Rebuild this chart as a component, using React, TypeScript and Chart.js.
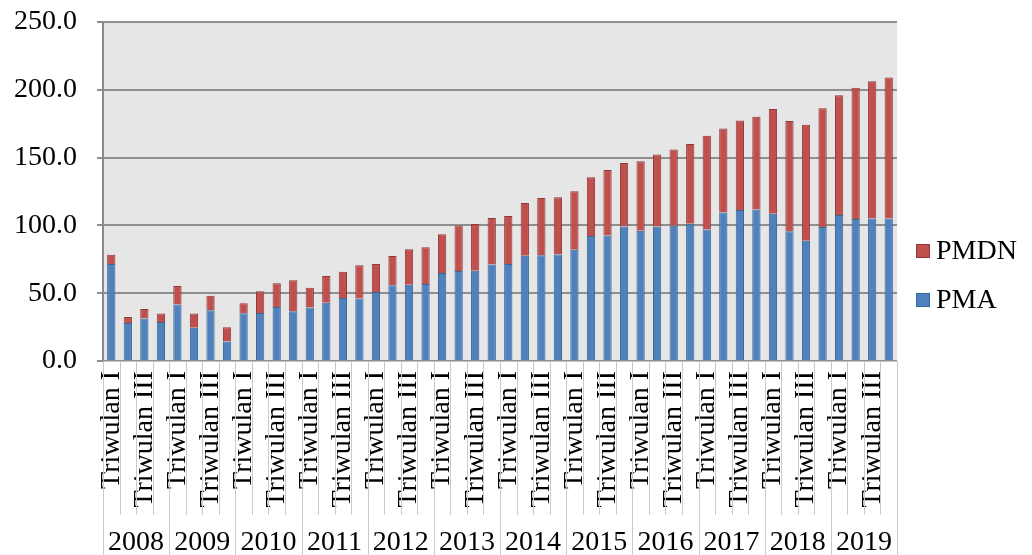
import React, { useEffect, useRef } from "react";
import { Chart, registerables } from "chart.js";

Chart.register(...registerables);

// Quarterly investment realisation, 2008–2019
const years = ["2008", "2009", "2010", "2011", "2012", "2013", "2014", "2015", "2016", "2017", "2018", "2019"];
const quarters = ["Triwulan I", "Triwulan II", "Triwulan III", "Triwulan IV"];

const pmaValues = [
  71.5, 28.0, 31.3, 28.8,
  41.6, 24.6, 37.4, 14.3,
  35.2, 35.4, 39.8, 36.7,
  39.4, 43.0, 46.5, 46.0,
  50.9, 55.8, 56.3, 56.8,
  64.9, 66.4, 66.6, 71.1,
  71.6, 77.7, 78.0, 78.5,
  82.1, 92.2, 92.5, 99.2,
  96.0, 99.2, 99.7, 101.2,
  97.0, 109.6, 111.3, 111.8,
  108.6, 95.6, 88.7, 98.8,
  107.6, 104.7, 105.0, 105.0,
];

const pmdnValues = [
  6.8, 4.4, 7.0, 6.2,
  13.7, 10.4, 10.8, 10.6,
  7.4, 16.0, 17.5, 22.8,
  14.7, 19.7, 19.4, 24.6,
  20.7, 21.7, 26.1, 27.1,
  28.5, 33.6, 34.4, 34.4,
  35.4, 38.8, 42.2, 42.2,
  43.1, 43.3, 48.4, 46.9,
  51.3, 53.0, 56.2, 58.8,
  69.2, 61.8, 66.0, 68.4,
  77.3, 81.4, 85.6, 87.6,
  88.4, 96.9, 101.3, 104.0,
];

const yTicks = [0, 50, 100, 150, 200, 250];

const FONT = "'Liberation Serif', 'Times New Roman', serif";
const BLUE = "#4f81bd";
const BLUE_EDGE = "#3a6596";
const RED = "#c0504d";
const RED_EDGE = "#8f3a38";

const labels = years.flatMap((y) => quarters.map((q) => `${q} ${y}`));

// Grey plot background
const plotBackground = {
  id: "plotBackground",
  beforeDraw(chart: any) {
    const { ctx, chartArea } = chart;
    ctx.save();
    ctx.fillStyle = "#e6e6e6";
    ctx.fillRect(chartArea.left, chartArea.top, chartArea.right - chartArea.left, chartArea.bottom - chartArea.top);
    ctx.restore();
  },
};

// Two-level category axis: quarter separators and year labels
const yearAxis = {
  id: "yearAxis",
  afterDraw(chart: any) {
    const { ctx, chartArea } = chart;
    const n = labels.length;
    const step = (chartArea.right - chartArea.left) / n;
    const h = chart.height;
    ctx.save();
    ctx.strokeStyle = "#cacaca";
    ctx.lineWidth = 1;
    for (let i = 0; i <= n; i++) {
      const x = Math.round(chartArea.left + i * step) + 0.5;
      const yEnd = i % 4 === 0 ? h : 515;
      ctx.beginPath();
      ctx.moveTo(x, chartArea.bottom);
      ctx.lineTo(x, yEnd);
      ctx.stroke();
    }
    ctx.fillStyle = "#000";
    ctx.font = `28px ${FONT}`;
    ctx.textAlign = "center";
    ctx.textBaseline = "middle";
    years.forEach((y, k) => {
      const cx = chartArea.left + (k * 4 + 2) * step;
      ctx.fillText(y, cx, 543);
    });
    ctx.restore();
  },
};

// Legend at the right of the plot
const sideLegend = {
  id: "sideLegend",
  afterDraw(chart: any) {
    const { ctx } = chart;
    const items = [
      { text: chart.data.datasets[1].label, fill: RED, edge: RED_EDGE, y: 251 },
      { text: chart.data.datasets[0].label, fill: BLUE, edge: BLUE_EDGE, y: 300 },
    ];
    ctx.save();
    ctx.font = `28px ${FONT}`;
    ctx.textBaseline = "middle";
    ctx.textAlign = "left";
    items.forEach((it) => {
      ctx.fillStyle = it.fill;
      ctx.fillRect(916, it.y - 7, 14, 14);
      ctx.strokeStyle = it.edge;
      ctx.lineWidth = 1;
      ctx.strokeRect(916.5, it.y - 6.5, 13, 13);
      ctx.fillStyle = "#000";
      ctx.fillText(it.text, 936, it.y + 1);
    });
    ctx.restore();
  },
};

export default function App() {
  const canvasRef = useRef<HTMLCanvasElement | null>(null);

  useEffect(() => {
    if (!canvasRef.current) return;
    const chart = new Chart(canvasRef.current, {
      type: "bar",
      data: {
        labels,
        datasets: [
          {
            label: "PMA",
            data: pmaValues,
            backgroundColor: BLUE,
            borderColor: BLUE_EDGE,
            borderWidth: 1,
            barPercentage: 0.5,
            categoryPercentage: 1,
          },
          {
            label: "PMDN",
            data: pmdnValues,
            backgroundColor: RED,
            borderColor: RED_EDGE,
            borderWidth: 1,
            barPercentage: 0.5,
            categoryPercentage: 1,
          },
        ],
      },
      options: {
        animation: false,
        responsive: false,
        maintainAspectRatio: false,
        layout: { autoPadding: false, padding: { top: 22, right: 135, left: 0, bottom: 0 } },
        plugins: { legend: { display: false }, tooltip: { enabled: false } },
        scales: {
          x: {
            stacked: true,
            afterFit: (scale: any) => {
              scale.height = 194;
              scale.paddingTop = 0;
              scale.paddingBottom = 0;
              scale.paddingLeft = 0;
              scale.paddingRight = 0;
            },
            grid: { display: true, drawOnChartArea: false, drawTicks: false, color: "rgba(0,0,0,0)" },
            border: { display: true, color: "#c4c4c4", width: 1 },
            ticks: {
              autoSkip: false,
              minRotation: 90,
              maxRotation: 90,
              padding: 10,
              color: "#000",
              font: { family: FONT, size: 28 },
              callback: (_v: any, i: number) => {
                const q = i % 4;
                return q === 0 || q === 2 ? quarters[q] : "";
              },
            },
          },
          y: {
            stacked: true,
            min: yTicks[0],
            max: yTicks[yTicks.length - 1],
            afterFit: (scale: any) => {
              scale.width = 103;
              scale.paddingTop = 0;
              scale.paddingBottom = 0;
            },
            afterBuildTicks: (scale: any) => {
              scale.ticks = yTicks.map((v) => ({ value: v }));
            },
            grid: { color: "#8f8f8f", lineWidth: 2, tickLength: 6 },
            border: { display: true, color: "#8a8a8a", width: 2 },
            ticks: {
              padding: 20,
              color: "#000",
              font: { family: FONT, size: 28 },
              callback: (v: any) => Number(v).toFixed(1),
            },
          },
        },
      },
      plugins: [plotBackground, yearAxis, sideLegend],
    });
    return () => chart.destroy();
  }, []);

  return (
    <div style={{ position: "fixed", left: 0, top: 0, width: 1032, height: 555, background: "#fff" }}>
      <canvas ref={canvasRef} width={1032} height={555} style={{ width: 1032, height: 555, display: "block" }} />
    </div>
  );
}
